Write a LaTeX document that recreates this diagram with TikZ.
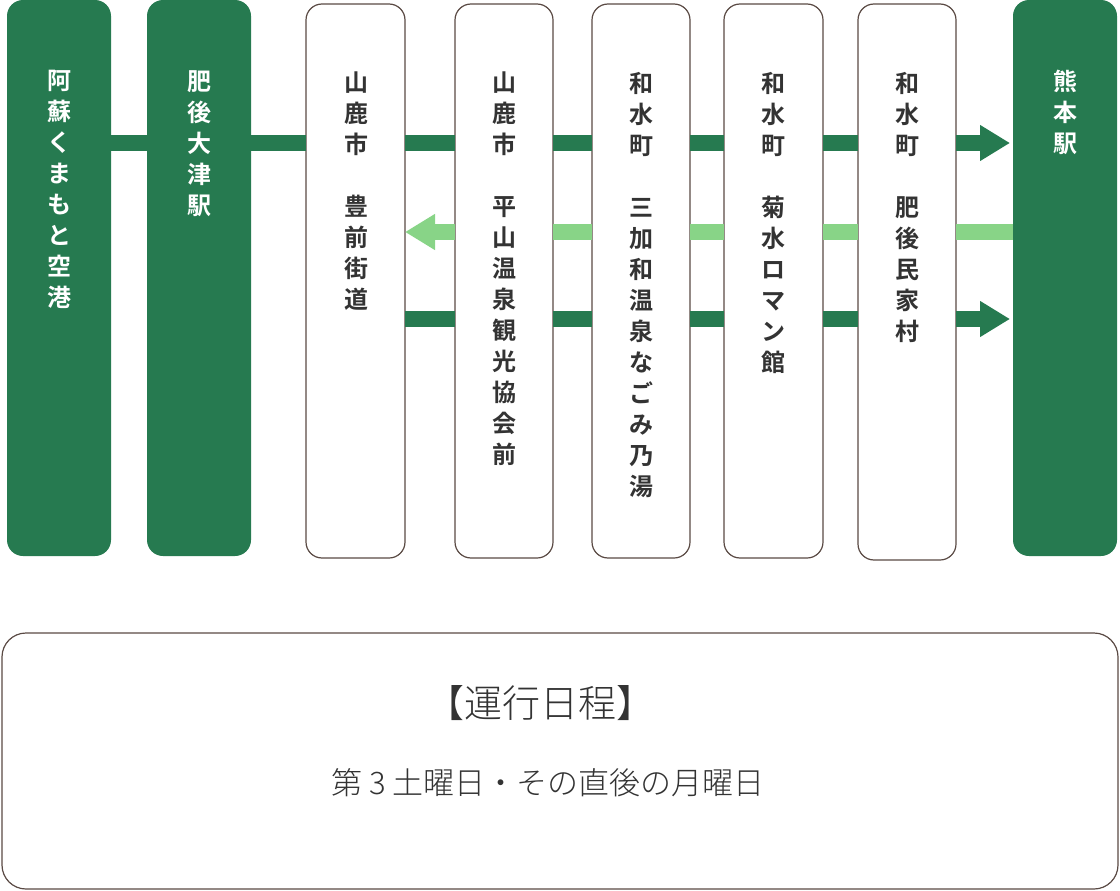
\documentclass[tikz,border=0pt]{standalone}
\usepackage{fontspec}
\newfontfamily\cjkb[BoldFont={Noto Sans CJK JP Bold}]{Noto Sans CJK JP}
\newfontfamily\cjkl{Noto Sans CJK JP Light}
\usetikzlibrary{arrows.meta}
\definecolor{dg}{HTML}{267A50}
\definecolor{lg}{HTML}{88D487}
\definecolor{bd}{HTML}{5A4A44}
\definecolor{tx}{HTML}{333333}
\begin{document}
\begin{tikzpicture}[x=1pt,y=-1pt,
 gbox/.style={fill=dg,rounded corners=16pt,draw=none},
 wbox/.style={fill=white,draw=bd,line width=1.2pt,rounded corners=16pt},
 lab/.style={anchor=north,align=center,font=\cjkb\bfseries\fontsize{24}{31}\selectfont,inner sep=0pt},
 bar/.style={line width=16pt,dg},
 lbar/.style={line width=16pt,lg}]
\useasboundingbox (0,0) rectangle (1120,891);
\newcommand\bx[6]{\path[#1] (#2,#3) rectangle (#4,#5); \coordinate (#6w) at (#2,0); \coordinate (#6e) at (#4,0);}
\bx{gbox}{7}{0}{111}{556}{g1}
\bx{gbox}{147}{0}{251}{556}{g2}
\bx{wbox}{306}{4}{405}{558}{w1}
\bx{wbox}{455}{4}{553}{558}{w2}
\bx{wbox}{592}{4}{690}{558}{w3}
\bx{wbox}{724}{4}{823}{558}{w4}
\bx{wbox}{858}{4}{956}{560}{w5}
\bx{gbox}{1013}{0}{1117}{556}{g3}
\node[lab,white] (t1) at (59,70) {阿\\蘇\\く\\ま\\も\\と\\空\\港};
\node[lab,white] (t2) at (199,70) {肥\\後\\大\\津\\駅};
\node[lab,tx] (t3) at (356,72) {山\\鹿\\市\\\\豊\\前\\街\\道};
\node[lab,tx] (t4) at (504,72) {山\\鹿\\市\\\\平\\山\\温\\泉\\観\\光\\協\\会\\前};
\node[lab,tx] (t5) at (641,72) {和\\水\\町\\\\三\\加\\和\\温\\泉\\な\\ご\\み\\乃\\湯};
\node[lab,tx] (t6) at (773,72) {和\\水\\町\\\\菊\\水\\ロ\\マ\\ン\\館};
\node[lab,tx] (t7) at (907,72) {和\\水\\町\\\\肥\\後\\民\\家\\村};
\node[lab,white] (t8) at (1065,70) {熊\\本\\駅};
% row 1
\foreach \a/\b in {g1e/g2w,g2e/w1w,w1e/w2w,w2e/w3w,w3e/w4w,w4e/w5w}
  \draw[bar] ([yshift=-143pt]\a) -- ([yshift=-143pt]\b);
\draw[bar,-{Triangle[length=30pt,width=34pt]}] ([yshift=-143pt]w5e) -- ([xshift=-3pt,yshift=-143pt]g3w);
% row 2
\foreach \a/\b in {g3w/w5e,w5w/w4e,w4w/w3e,w3w/w2e}
  \draw[lbar] ([yshift=-232pt]\a) -- ([yshift=-232pt]\b);
\draw[lbar,-{Triangle[length=30pt,width=34pt]}] ([yshift=-232pt]w2w) -- ([yshift=-232pt]w1e);
% row 3
\foreach \a/\b in {w1e/w2w,w2e/w3w,w3e/w4w,w4e/w5w}
  \draw[bar] ([yshift=-319pt]\a) -- ([yshift=-319pt]\b);
\draw[bar,-{Triangle[length=30pt,width=34pt]}] ([yshift=-319pt]w5e) -- ([xshift=-3pt,yshift=-319pt]g3w);
% schedule box
\draw[draw=bd,line width=1.2pt,rounded corners=24pt] (2,633) rectangle (1118,889);
\node[font=\cjkl\fontsize{38}{38}\selectfont,text=tx] (s1) at (540,703) {【運行日程】};
\node[font=\cjkl\fontsize{31}{31}\selectfont,text=tx] (s2) at (548,783) {第 3 土曜日・その直後の月曜日};
\end{tikzpicture}
\end{document}
